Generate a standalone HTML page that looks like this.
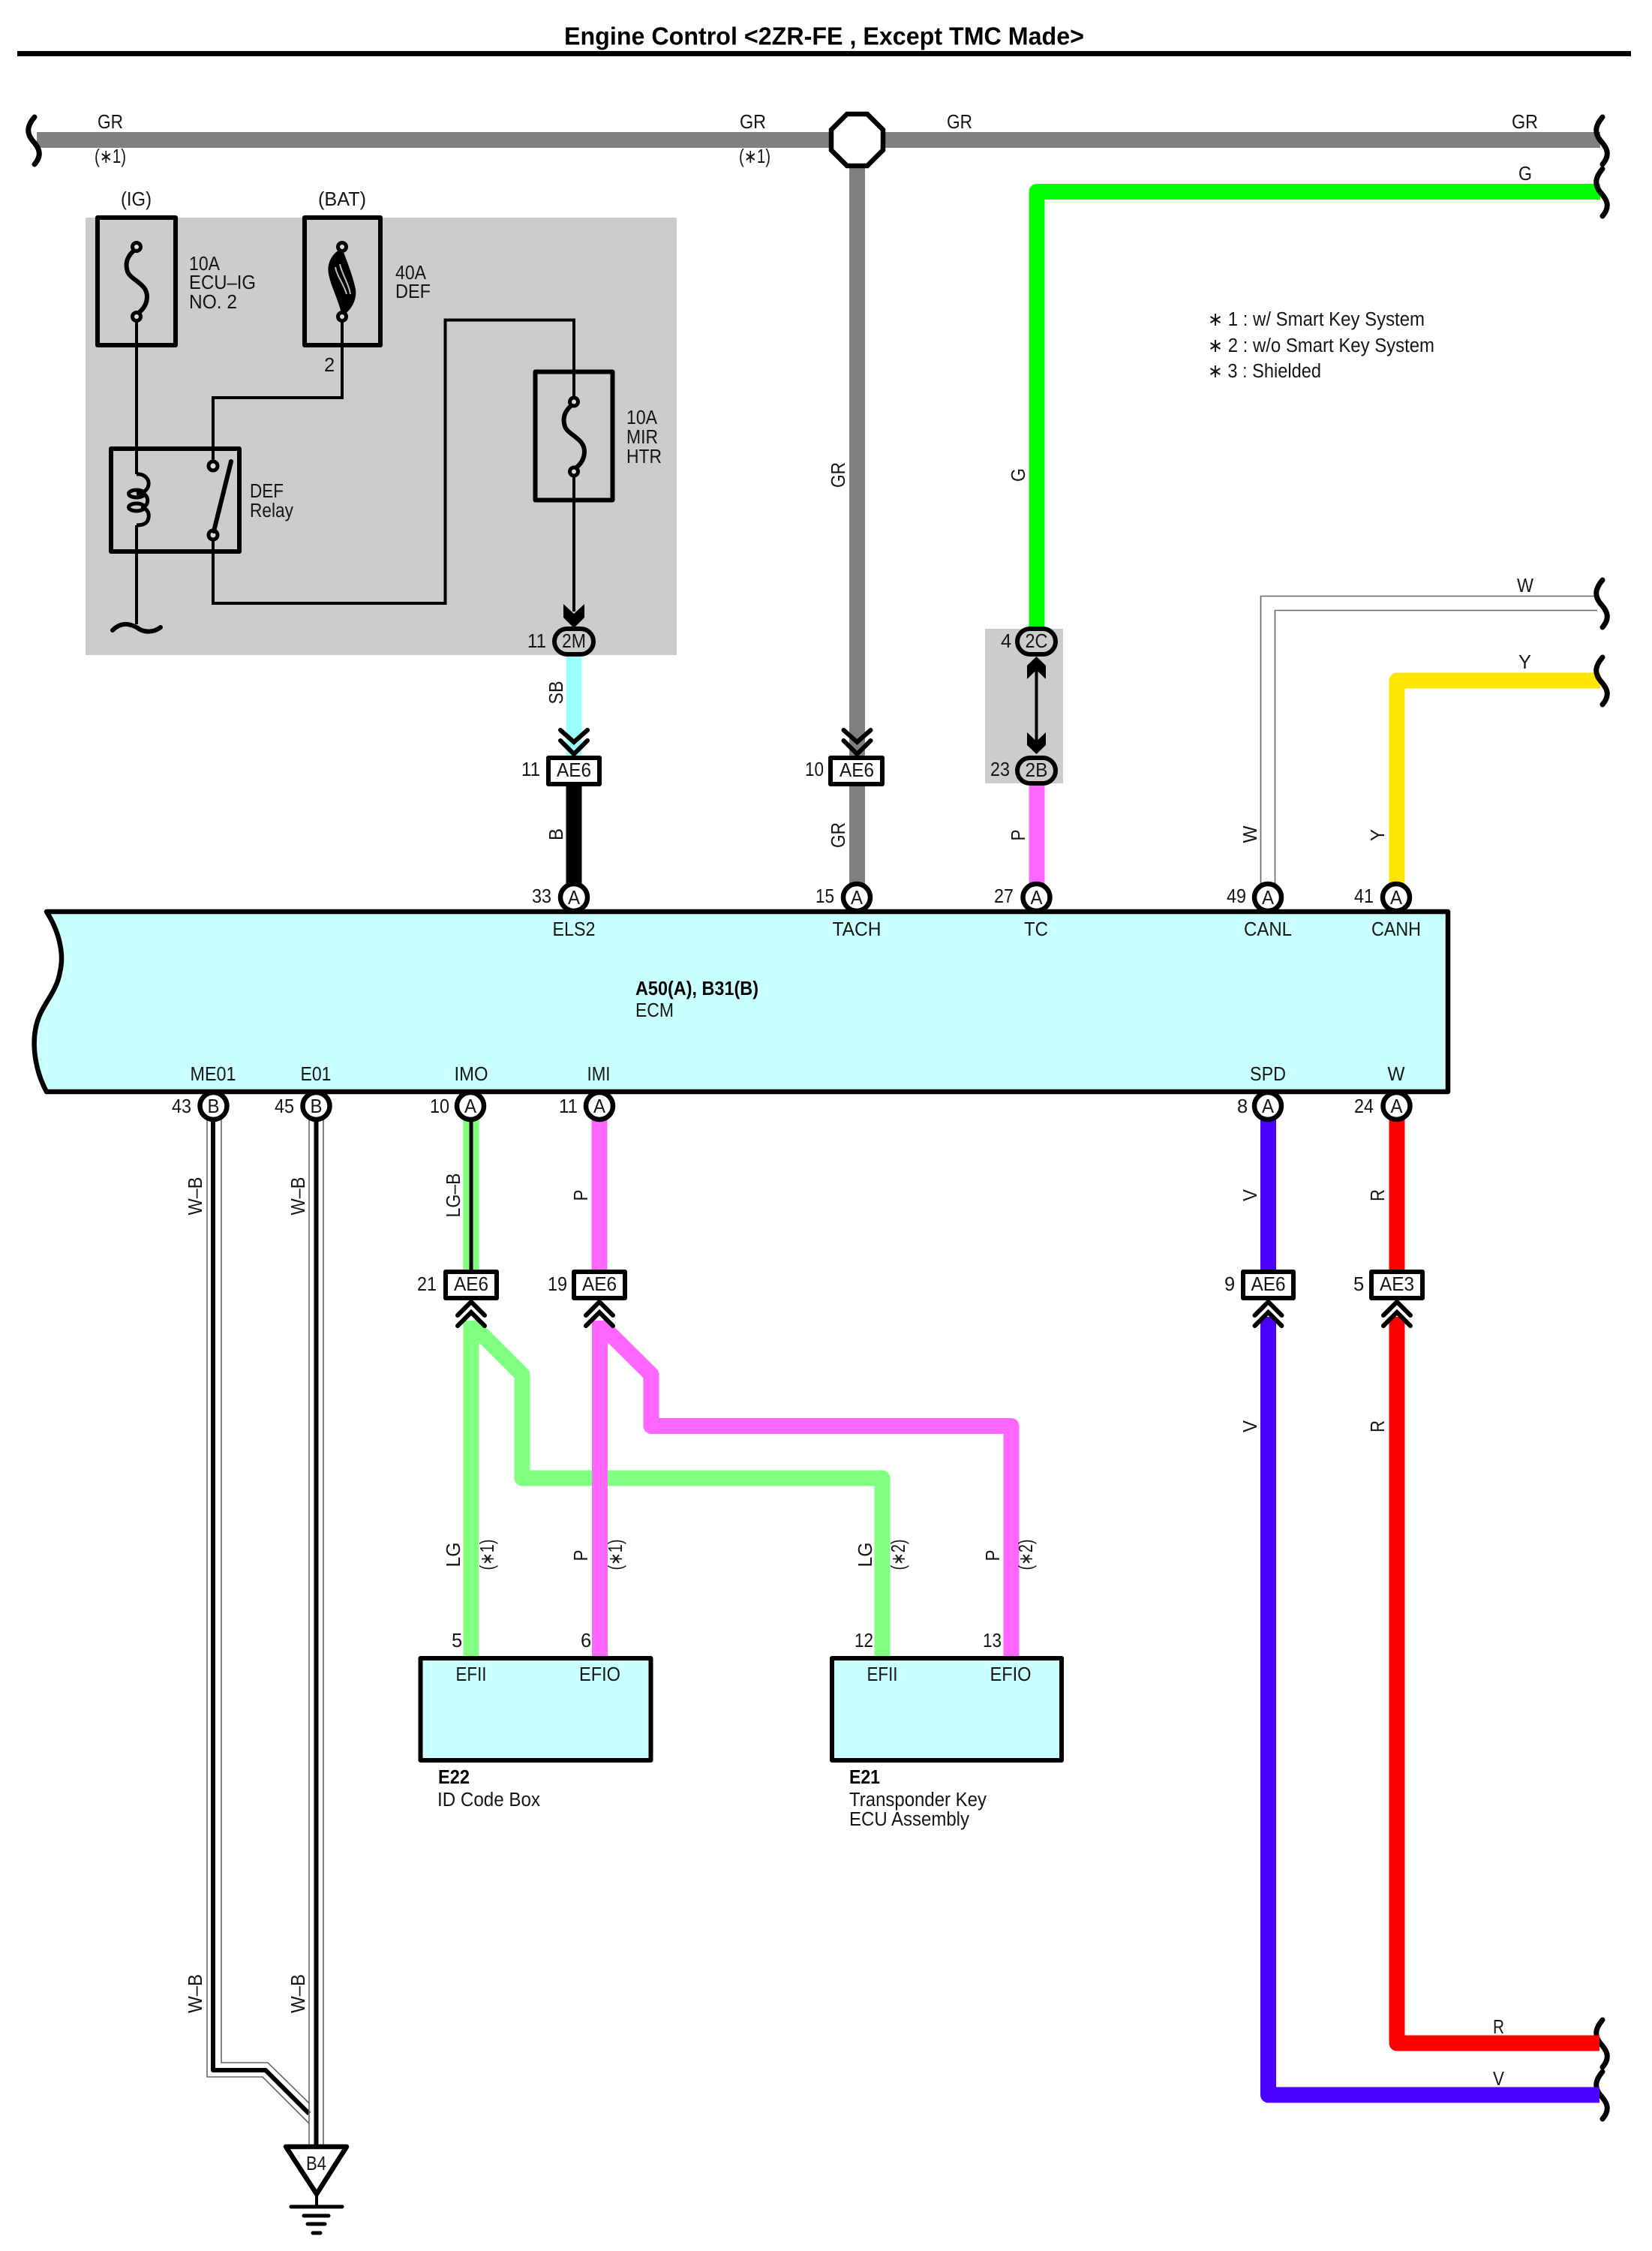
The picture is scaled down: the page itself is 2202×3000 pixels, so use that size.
<!DOCTYPE html>
<html><head><meta charset="utf-8"><title>Engine Control</title>
<style>
html,body{margin:0;padding:0;background:#fff}
svg{display:block}
text{font-family:"Liberation Sans",Arial,sans-serif;font-size:25.5px;fill:#151515}
.m{text-anchor:middle}
.b{font-weight:bold;fill:#000}
.w{fill:none;stroke-width:21;stroke-linejoin:round}
.k{fill:none;stroke:#000;stroke-width:4;stroke-linejoin:miter}
.g{fill:none;stroke:#666;stroke-width:1.6;stroke-linejoin:miter}
.box{stroke:#000;stroke-width:6;stroke-linejoin:round}
.ch{fill:none;stroke:#000;stroke-width:6;stroke-linecap:round;stroke-linejoin:miter}
.wave{fill:none;stroke:#000;stroke-width:7;stroke-linecap:round}
</style></head><body>
<svg xmlns="http://www.w3.org/2000/svg" width="2202" height="3000" viewBox="0 0 2202 3000">
<defs>
<path id="wv" class="wave" d="M0,-31 C-11,-18 -10,-9 -3,0 C6,10 11,19 0,32"/>
<path id="fs" fill="none" stroke="#000" stroke-width="6" d="M182,331 C170,340 166,350 170,362 C174,373 196,378 196,395 C196,408 188,415 182,419"/>
<path id="c2" class="ch" d="M-18,0 L0,16 L18,0 M-18,14 L0,32 L18,14"/>
<path id="c3" class="ch" d="M-18,18 L0,0 L18,18 M-18,32 L0,14 L18,32"/>
</defs>

<rect width="2202" height="3000" fill="#fff"/>

<!-- Title -->
<text class="b" x="752" y="59.5" style="font-size:33px" textLength="693" lengthAdjust="spacingAndGlyphs">Engine Control &lt;2ZR-FE , Except TMC Made&gt;</text>
<line x1="23" y1="71.5" x2="2174" y2="71.5" stroke="#000" stroke-width="7"/>

<!-- Gray regions -->
<rect x="114" y="290" width="788" height="583" fill="#ccc"/>
<rect x="1313" y="838" width="104" height="206" fill="#ccc"/>

<!-- Top bus and long wires -->
<path class="w" stroke="#808080" d="M49,186.5 H2133"/>
<path class="w" stroke="#808080" d="M1142.5,186 V1180"/>
<path class="w" stroke="#00ff00" d="M2133,255.5 H1382 V840"/>
<path class="w" stroke="#ffe600" d="M2133,907 H1862 V1180"/>
<path class="w" stroke="#99ffff" d="M765,870 V1010"/>
<path class="w" stroke="#000" d="M765,1045 V1180"/>
<path class="w" stroke="#ff66ff" d="M1382,1045 V1180"/>

<!-- W double wire -->
<path class="g" d="M2129,794.5 H1680.5 V1180"/>
<path class="g" d="M2129,813.5 H1699.5 V1180"/>

<!-- Break marks -->
<use href="#wv" x="46" y="187"/>
<use href="#wv" x="2136" y="187"/>
<use href="#wv" x="2136" y="256"/>
<use href="#wv" x="2136" y="804"/>
<use href="#wv" x="2136" y="907"/>
<use href="#wv" x="2136" y="2723"/>
<use href="#wv" x="2136" y="2792"/>

<!-- Octagon junction -->
<polygon points="1129,152 1156,152 1177,173 1177,200 1156,221 1129,221 1108,200 1108,173" fill="#fff" stroke="#000" stroke-width="6.5"/>

<!-- Fuse panel wiring -->
<path class="k" d="M182,422 V632 M182,700 V832"/>
<path class="k" d="M456,422 V530 H284 V620"/>
<path class="k" d="M284,713 V804 H593.5 V426.5 H765 V535"/>
<path class="k" d="M765,627 V815"/>
<!-- Fuse boxes -->
<rect x="130" y="290" width="104" height="170" fill="none" class="box"/>
<rect x="406" y="290" width="101" height="170" fill="none" class="box"/>
<rect x="713.5" y="495.5" width="103" height="171" fill="none" class="box"/>
<rect x="148" y="598" width="171" height="137" fill="none" class="box"/>
<!-- Fuse 1 -->
<use href="#fs"/>
<circle cx="182" cy="329" r="5.5" fill="#ddd" stroke="#000" stroke-width="5"/>
<circle cx="182" cy="422" r="5.5" fill="#ddd" stroke="#000" stroke-width="5"/>
<!-- Fuse 2 -->
<path d="M456,331 C444,336 435,350 438,365 C441,382 450,396 456,421 C468,414 476,400 474,386 C471,370 464,352 456,331Z" fill="#000"/>
<path d="M447,356 C449,368 458,378 462,392 M453,352 C456,366 465,378 467,392" fill="none" stroke="#bbb" stroke-width="2"/>
<circle cx="456" cy="329" r="5.5" fill="#ddd" stroke="#000" stroke-width="5"/>
<circle cx="456" cy="422" r="5.5" fill="#ddd" stroke="#000" stroke-width="5"/>
<!-- Fuse 3 -->
<use href="#fs" x="583" y="206.5"/>
<circle cx="765" cy="535.5" r="5.5" fill="#ddd" stroke="#000" stroke-width="5"/>
<circle cx="765" cy="628.5" r="5.5" fill="#ddd" stroke="#000" stroke-width="5"/>
<!-- Relay -->
<path fill="none" stroke="#000" stroke-width="5" d="M182,632 C194,631 199,640 198,646 C197,654 190,657 182,658 M190,658 C199,660 199,674 190,676 M188,676 C197,678 199,684 198,690 C197,697 192,700 182,700"/>
<ellipse cx="182" cy="658" rx="10.5" ry="5" fill="none" stroke="#000" stroke-width="5"/>
<ellipse cx="182" cy="676" rx="10.5" ry="5" fill="none" stroke="#000" stroke-width="5"/>
<circle cx="284" cy="621" r="6" fill="#ddd" stroke="#000" stroke-width="5"/>
<circle cx="284" cy="713" r="6" fill="#ddd" stroke="#000" stroke-width="5"/>
<line x1="285" y1="708" x2="308" y2="615" stroke="#000" stroke-width="6" stroke-linecap="round"/>
<path fill="none" stroke="#000" stroke-width="6" stroke-linecap="round" d="M150,840 C160,830 170,830 182,836 C192,844 205,843 214,836"/>

<!-- Arrow to 2M -->
<path d="M751,805 L765,818 L779,805 L779,823 L765,837 L751,823Z" fill="#000"/>
<!-- Double arrow 2C-2B -->
<line x1="1381.5" y1="880" x2="1381.5" y2="1000" stroke="#000" stroke-width="4"/>
<path d="M1381.5,875 L1394,887 L1394,905 L1381.5,893 L1369,905 L1369,887Z" fill="#000"/>
<path d="M1381.5,1005 L1394,993 L1394,976 L1381.5,988 L1369,976 L1369,993Z" fill="#000"/>

<!-- Lower wires from ECM -->
<path d="M284,1490 V2759 H354 L412,2817" fill="none" stroke="#fff" stroke-width="18"/>
<path class="g" d="M276,1490 V2768 H350 L412,2830"/>
<path class="g" d="M295,1490 V2749 H357 L412,2803"/>
<path fill="none" stroke="#000" stroke-width="6" stroke-linejoin="round" d="M284,1490 V2759 H354 L412,2817"/>
<path class="g" d="M412,1490 V2860 M431,1490 V2860"/>
<path fill="none" stroke="#000" stroke-width="6" d="M421.5,1490 V2860"/>

<path class="w" stroke="#80ff80" style="stroke-width:21.5" d="M628,1490 V1695"/>
<line x1="628" y1="1490" x2="628" y2="1695" stroke="#000" stroke-width="5"/>
<path class="w" stroke="#ff66ff" d="M799,1490 V1695"/>
<path class="w" stroke="#4b00ff" d="M1690.5,1490 V1695"/>
<path class="w" stroke="#ff0000" d="M1862,1490 V1695"/>

<!-- Branches -->
<path class="w" stroke="#80ff80" d="M628,1760 V2208"/>
<path class="w" stroke="#80ff80" d="M628,1764 L696,1832 V1970 H1176 V2208"/>
<path class="w" stroke="#ff66ff" d="M799.5,1764 L868,1832 V1900.5 H1348 V2208"/>
<path class="w" stroke="#ff66ff" d="M799.5,1760 V2208"/>
<path class="w" stroke="#4b00ff" d="M1690.5,1755 V2792 H2132"/>
<path class="w" stroke="#ff0000" d="M1862,1755 V2723 H2132"/>

<!-- ECM -->
<path d="M62,1215 H1930 V1455 H62 C46,1425 40,1385 52,1355 C60,1335 76,1320 80,1295 C86,1270 78,1240 62,1215Z" fill="#c8ffff" stroke="#000" stroke-width="6.5" stroke-linejoin="round"/>

<!-- E22 / E21 -->
<rect x="560.5" y="2210" width="307" height="136" fill="#c8ffff" class="box"/>
<rect x="1109" y="2210" width="306" height="136" fill="#c8ffff" class="box"/>

<!-- Ground -->
<polygon points="381,2861 462,2861 422,2924" fill="#fff" stroke="#000" stroke-width="6.5" stroke-linejoin="round"/>
<line x1="422" y1="2925" x2="422" y2="2942" stroke="#000" stroke-width="4"/>
<path fill="none" stroke="#000" stroke-linecap="round" d="M388,2941 H456" stroke-width="5"/>
<path fill="none" stroke="#000" stroke-linecap="round" d="M405,2953 H438" stroke-width="5"/>
<path fill="none" stroke="#000" stroke-linecap="round" d="M410,2964 H433" stroke-width="5"/>
<path fill="none" stroke="#000" stroke-linecap="round" d="M417,2976 H427" stroke-width="5"/>

<!-- Chevrons -->
<use href="#c2" x="765" y="973"/>
<use href="#c2" x="1142.5" y="973"/>
<use href="#c3" x="628" y="1735"/>
<use href="#c3" x="799" y="1735"/>
<use href="#c3" x="1690.5" y="1735"/>
<use href="#c3" x="1862" y="1735"/>

<!-- Connector boxes AE -->
<g fill="#fff" class="box">
<rect x="731" y="1010" width="68" height="35"/>
<rect x="1107" y="1010" width="69" height="35"/>
<rect x="594" y="1695" width="68" height="35"/>
<rect x="765" y="1695" width="68" height="35"/>
<rect x="1657" y="1695" width="67" height="35"/>
<rect x="1828" y="1695" width="68" height="35"/>
</g>

<!-- Oval connectors -->
<g fill="#ccc" class="box">
<rect x="739" y="838" width="52" height="34" rx="17"/>
<rect x="1356" y="838" width="51" height="34" rx="17"/>
<rect x="1356" y="1010" width="51" height="34" rx="17"/>
</g>

<!-- Circle connectors -->
<g fill="#fff" stroke="#000" stroke-width="6.5">
<ellipse cx="765" cy="1196" rx="18" ry="18"/>
<ellipse cx="1142" cy="1196" rx="18" ry="18"/>
<ellipse cx="1381.5" cy="1196" rx="18" ry="18"/>
<ellipse cx="1690" cy="1196" rx="18" ry="18"/>
<ellipse cx="1861" cy="1196" rx="18" ry="18"/>
<ellipse cx="284.5" cy="1474" rx="18" ry="18"/>
<ellipse cx="421.5" cy="1474" rx="18" ry="18"/>
<ellipse cx="627" cy="1474" rx="18" ry="18"/>
<ellipse cx="799" cy="1474" rx="18" ry="18"/>
<ellipse cx="1690" cy="1474" rx="18" ry="18"/>
<ellipse cx="1861.5" cy="1474" rx="18" ry="18"/>
</g>

<!-- Horizontal wire labels -->
<text x="130" y="171" textLength="34" lengthAdjust="spacingAndGlyphs">GR</text>
<text x="986" y="171" textLength="35" lengthAdjust="spacingAndGlyphs">GR</text>
<text x="1262" y="171" textLength="34" lengthAdjust="spacingAndGlyphs">GR</text>
<text x="2015" y="171" textLength="35" lengthAdjust="spacingAndGlyphs">GR</text>
<text x="126" y="217" textLength="42" lengthAdjust="spacingAndGlyphs">(∗1)</text>
<text x="985" y="217" textLength="42" lengthAdjust="spacingAndGlyphs">(∗1)</text>
<text x="2024" y="240" textLength="18" lengthAdjust="spacingAndGlyphs">G</text>
<text x="2022" y="789" textLength="22" lengthAdjust="spacingAndGlyphs">W</text>
<text x="2024" y="891" textLength="17" lengthAdjust="spacingAndGlyphs">Y</text>
<text x="1990" y="2710" textLength="15" lengthAdjust="spacingAndGlyphs">R</text>
<text x="1990" y="2779" textLength="15" lengthAdjust="spacingAndGlyphs">V</text>

<!-- Fuse labels -->
<text x="161" y="274" textLength="41" lengthAdjust="spacingAndGlyphs">(IG)</text>
<text x="424" y="274" textLength="64" lengthAdjust="spacingAndGlyphs">(BAT)</text>
<text x="252" y="360" textLength="41" lengthAdjust="spacingAndGlyphs">10A</text>
<text x="252" y="385" textLength="89" lengthAdjust="spacingAndGlyphs">ECU–IG</text>
<text x="252" y="411" textLength="64" lengthAdjust="spacingAndGlyphs">NO. 2</text>
<text x="527" y="372" textLength="41" lengthAdjust="spacingAndGlyphs">40A</text>
<text x="527" y="397" textLength="47" lengthAdjust="spacingAndGlyphs">DEF</text>
<text x="432" y="495">2</text>
<text x="835" y="565" textLength="41" lengthAdjust="spacingAndGlyphs">10A</text>
<text x="835" y="591" textLength="42" lengthAdjust="spacingAndGlyphs">MIR</text>
<text x="835" y="617" textLength="47" lengthAdjust="spacingAndGlyphs">HTR</text>
<text x="333" y="663" textLength="45" lengthAdjust="spacingAndGlyphs">DEF</text>
<text x="333" y="689" textLength="58" lengthAdjust="spacingAndGlyphs">Relay</text>

<!-- Legend -->
<text x="1610" y="434" textLength="289" lengthAdjust="spacingAndGlyphs">∗ 1 : w/ Smart Key System</text>
<text x="1610" y="469" textLength="302" lengthAdjust="spacingAndGlyphs">∗ 2 : w/o Smart Key System</text>
<text x="1610" y="503" textLength="151" lengthAdjust="spacingAndGlyphs">∗ 3 : Shielded</text>

<!-- Connector codes -->
<text class="m" x="765" y="863" textLength="32" lengthAdjust="spacingAndGlyphs">2M</text>
<text class="m" x="1381.5" y="863" textLength="30" lengthAdjust="spacingAndGlyphs">2C</text>
<text class="m" x="1381.5" y="1035" textLength="30" lengthAdjust="spacingAndGlyphs">2B</text>
<text class="m" x="765" y="1035" textLength="46" lengthAdjust="spacingAndGlyphs">AE6</text>
<text class="m" x="1142" y="1035" textLength="46" lengthAdjust="spacingAndGlyphs">AE6</text>
<text class="m" x="628" y="1720" textLength="46" lengthAdjust="spacingAndGlyphs">AE6</text>
<text class="m" x="799" y="1720" textLength="46" lengthAdjust="spacingAndGlyphs">AE6</text>
<text class="m" x="1690.5" y="1720" textLength="46" lengthAdjust="spacingAndGlyphs">AE6</text>
<text class="m" x="1862" y="1720" textLength="46" lengthAdjust="spacingAndGlyphs">AE3</text>

<!-- Pin numbers -->
<text x="703" y="863" textLength="25" lengthAdjust="spacingAndGlyphs">11</text>
<text x="1334" y="863">4</text>
<text x="695" y="1034" textLength="25" lengthAdjust="spacingAndGlyphs">11</text>
<text x="1073" y="1034" textLength="25" lengthAdjust="spacingAndGlyphs">10</text>
<text x="1320" y="1034" textLength="26" lengthAdjust="spacingAndGlyphs">23</text>
<text x="709" y="1203" textLength="26" lengthAdjust="spacingAndGlyphs">33</text>
<text x="1087" y="1203" textLength="25" lengthAdjust="spacingAndGlyphs">15</text>
<text x="1325" y="1203" textLength="26" lengthAdjust="spacingAndGlyphs">27</text>
<text x="1635" y="1203" textLength="26" lengthAdjust="spacingAndGlyphs">49</text>
<text x="1805" y="1203" textLength="26" lengthAdjust="spacingAndGlyphs">41</text>
<text x="229" y="1483" textLength="26" lengthAdjust="spacingAndGlyphs">43</text>
<text x="366" y="1483" textLength="26" lengthAdjust="spacingAndGlyphs">45</text>
<text x="573" y="1483" textLength="26" lengthAdjust="spacingAndGlyphs">10</text>
<text x="745" y="1483" textLength="25" lengthAdjust="spacingAndGlyphs">11</text>
<text x="1649" y="1483">8</text>
<text x="1805" y="1483" textLength="26" lengthAdjust="spacingAndGlyphs">24</text>
<text x="556" y="1720" textLength="26" lengthAdjust="spacingAndGlyphs">21</text>
<text x="730" y="1720" textLength="26" lengthAdjust="spacingAndGlyphs">19</text>
<text x="1632" y="1720">9</text>
<text x="1804" y="1720">5</text>
<text x="602" y="2195">5</text>
<text x="774" y="2195">6</text>
<text x="1139" y="2195" textLength="25" lengthAdjust="spacingAndGlyphs">12</text>
<text x="1310" y="2195" textLength="25" lengthAdjust="spacingAndGlyphs">13</text>

<!-- Circle letters -->
<text class="m" x="765" y="1205" textLength="16" lengthAdjust="spacingAndGlyphs">A</text>
<text class="m" x="1142" y="1205" textLength="16" lengthAdjust="spacingAndGlyphs">A</text>
<text class="m" x="1381.5" y="1205" textLength="16" lengthAdjust="spacingAndGlyphs">A</text>
<text class="m" x="1690" y="1205" textLength="16" lengthAdjust="spacingAndGlyphs">A</text>
<text class="m" x="1861" y="1205" textLength="16" lengthAdjust="spacingAndGlyphs">A</text>
<text class="m" x="284.5" y="1483" textLength="16" lengthAdjust="spacingAndGlyphs">B</text>
<text class="m" x="421.5" y="1483" textLength="16" lengthAdjust="spacingAndGlyphs">B</text>
<text class="m" x="627" y="1483" textLength="16" lengthAdjust="spacingAndGlyphs">A</text>
<text class="m" x="799" y="1483" textLength="16" lengthAdjust="spacingAndGlyphs">A</text>
<text class="m" x="1690" y="1483" textLength="16" lengthAdjust="spacingAndGlyphs">A</text>
<text class="m" x="1861.5" y="1483" textLength="16" lengthAdjust="spacingAndGlyphs">A</text>

<!-- ECM labels -->
<text class="m" x="765" y="1247" textLength="57" lengthAdjust="spacingAndGlyphs">ELS2</text>
<text class="m" x="1142" y="1247" textLength="65" lengthAdjust="spacingAndGlyphs">TACH</text>
<text class="m" x="1381" y="1247" textLength="32" lengthAdjust="spacingAndGlyphs">TC</text>
<text class="m" x="1690" y="1247" textLength="64" lengthAdjust="spacingAndGlyphs">CANL</text>
<text class="m" x="1861" y="1247" textLength="66" lengthAdjust="spacingAndGlyphs">CANH</text>
<text class="m" x="284" y="1440" textLength="61" lengthAdjust="spacingAndGlyphs">ME01</text>
<text class="m" x="421" y="1440" textLength="41" lengthAdjust="spacingAndGlyphs">E01</text>
<text class="m" x="628" y="1440" textLength="45" lengthAdjust="spacingAndGlyphs">IMO</text>
<text class="m" x="798" y="1440" textLength="31" lengthAdjust="spacingAndGlyphs">IMI</text>
<text class="m" x="1690" y="1440" textLength="48" lengthAdjust="spacingAndGlyphs">SPD</text>
<text class="m" x="1861" y="1440" textLength="23" lengthAdjust="spacingAndGlyphs">W</text>
<text class="b" x="847" y="1326" textLength="164" lengthAdjust="spacingAndGlyphs">A50(A), B31(B)</text>
<text x="847" y="1355" textLength="51" lengthAdjust="spacingAndGlyphs">ECM</text>

<!-- Box labels -->
<text class="m" x="628" y="2240" textLength="41" lengthAdjust="spacingAndGlyphs">EFII</text>
<text class="m" x="799.5" y="2240" textLength="55" lengthAdjust="spacingAndGlyphs">EFIO</text>
<text class="m" x="1176" y="2240" textLength="41" lengthAdjust="spacingAndGlyphs">EFII</text>
<text class="m" x="1347" y="2240" textLength="55" lengthAdjust="spacingAndGlyphs">EFIO</text>
<text class="b" x="584" y="2377" textLength="42" lengthAdjust="spacingAndGlyphs">E22</text>
<text x="583" y="2407" textLength="137" lengthAdjust="spacingAndGlyphs">ID Code Box</text>
<text class="b" x="1132" y="2377" textLength="41" lengthAdjust="spacingAndGlyphs">E21</text>
<text x="1132" y="2407" textLength="183" lengthAdjust="spacingAndGlyphs">Transponder Key</text>
<text x="1132" y="2433" textLength="160" lengthAdjust="spacingAndGlyphs">ECU Assembly</text>
<text class="m" x="421.5" y="2892" textLength="27" lengthAdjust="spacingAndGlyphs">B4</text>

<!-- Rotated wire labels -->
<text class="m" transform="translate(1126,633) rotate(-90)" textLength="34" lengthAdjust="spacingAndGlyphs">GR</text>
<text class="m" transform="translate(1366,633) rotate(-90)" textLength="18" lengthAdjust="spacingAndGlyphs">G</text>
<text class="m" transform="translate(750,923) rotate(-90)" textLength="31" lengthAdjust="spacingAndGlyphs">SB</text>
<text class="m" transform="translate(750,1112) rotate(-90)" textLength="16" lengthAdjust="spacingAndGlyphs">B</text>
<text class="m" transform="translate(1126,1113) rotate(-90)" textLength="34" lengthAdjust="spacingAndGlyphs">GR</text>
<text class="m" transform="translate(1366,1113) rotate(-90)" textLength="15" lengthAdjust="spacingAndGlyphs">P</text>
<text class="m" transform="translate(1675,1112) rotate(-90)" textLength="23" lengthAdjust="spacingAndGlyphs">W</text>
<text class="m" transform="translate(1845,1113) rotate(-90)" textLength="16" lengthAdjust="spacingAndGlyphs">Y</text>
<text class="m" transform="translate(269,1594) rotate(-90)" textLength="51" lengthAdjust="spacingAndGlyphs">W–B</text>
<text class="m" transform="translate(406,1594) rotate(-90)" textLength="51" lengthAdjust="spacingAndGlyphs">W–B</text>
<text class="m" transform="translate(613,1593) rotate(-90)" textLength="59" lengthAdjust="spacingAndGlyphs">LG–B</text>
<text class="m" transform="translate(783,1593) rotate(-90)" textLength="15" lengthAdjust="spacingAndGlyphs">P</text>
<text class="m" transform="translate(1675,1593) rotate(-90)" textLength="16" lengthAdjust="spacingAndGlyphs">V</text>
<text class="m" transform="translate(1845,1593) rotate(-90)" textLength="16" lengthAdjust="spacingAndGlyphs">R</text>
<text class="m" transform="translate(1675,1901) rotate(-90)" textLength="16" lengthAdjust="spacingAndGlyphs">V</text>
<text class="m" transform="translate(1845,1901) rotate(-90)" textLength="16" lengthAdjust="spacingAndGlyphs">R</text>
<text class="m" transform="translate(269,2657) rotate(-90)" textLength="52" lengthAdjust="spacingAndGlyphs">W–B</text>
<text class="m" transform="translate(406,2657) rotate(-90)" textLength="52" lengthAdjust="spacingAndGlyphs">W–B</text>
<text class="m" transform="translate(613,2072) rotate(-90)" textLength="33" lengthAdjust="spacingAndGlyphs">LG</text>
<text class="m" transform="translate(658,2072) rotate(-90)" textLength="41" lengthAdjust="spacingAndGlyphs">(∗1)</text>
<text class="m" transform="translate(783,2073) rotate(-90)" textLength="15" lengthAdjust="spacingAndGlyphs">P</text>
<text class="m" transform="translate(829,2072) rotate(-90)" textLength="41" lengthAdjust="spacingAndGlyphs">(∗1)</text>
<text class="m" transform="translate(1162,2072) rotate(-90)" textLength="33" lengthAdjust="spacingAndGlyphs">LG</text>
<text class="m" transform="translate(1206,2072) rotate(-90)" textLength="41" lengthAdjust="spacingAndGlyphs">(∗2)</text>
<text class="m" transform="translate(1332,2073) rotate(-90)" textLength="15" lengthAdjust="spacingAndGlyphs">P</text>
<text class="m" transform="translate(1376,2072) rotate(-90)" textLength="41" lengthAdjust="spacingAndGlyphs">(∗2)</text>
</svg>
</body></html>
